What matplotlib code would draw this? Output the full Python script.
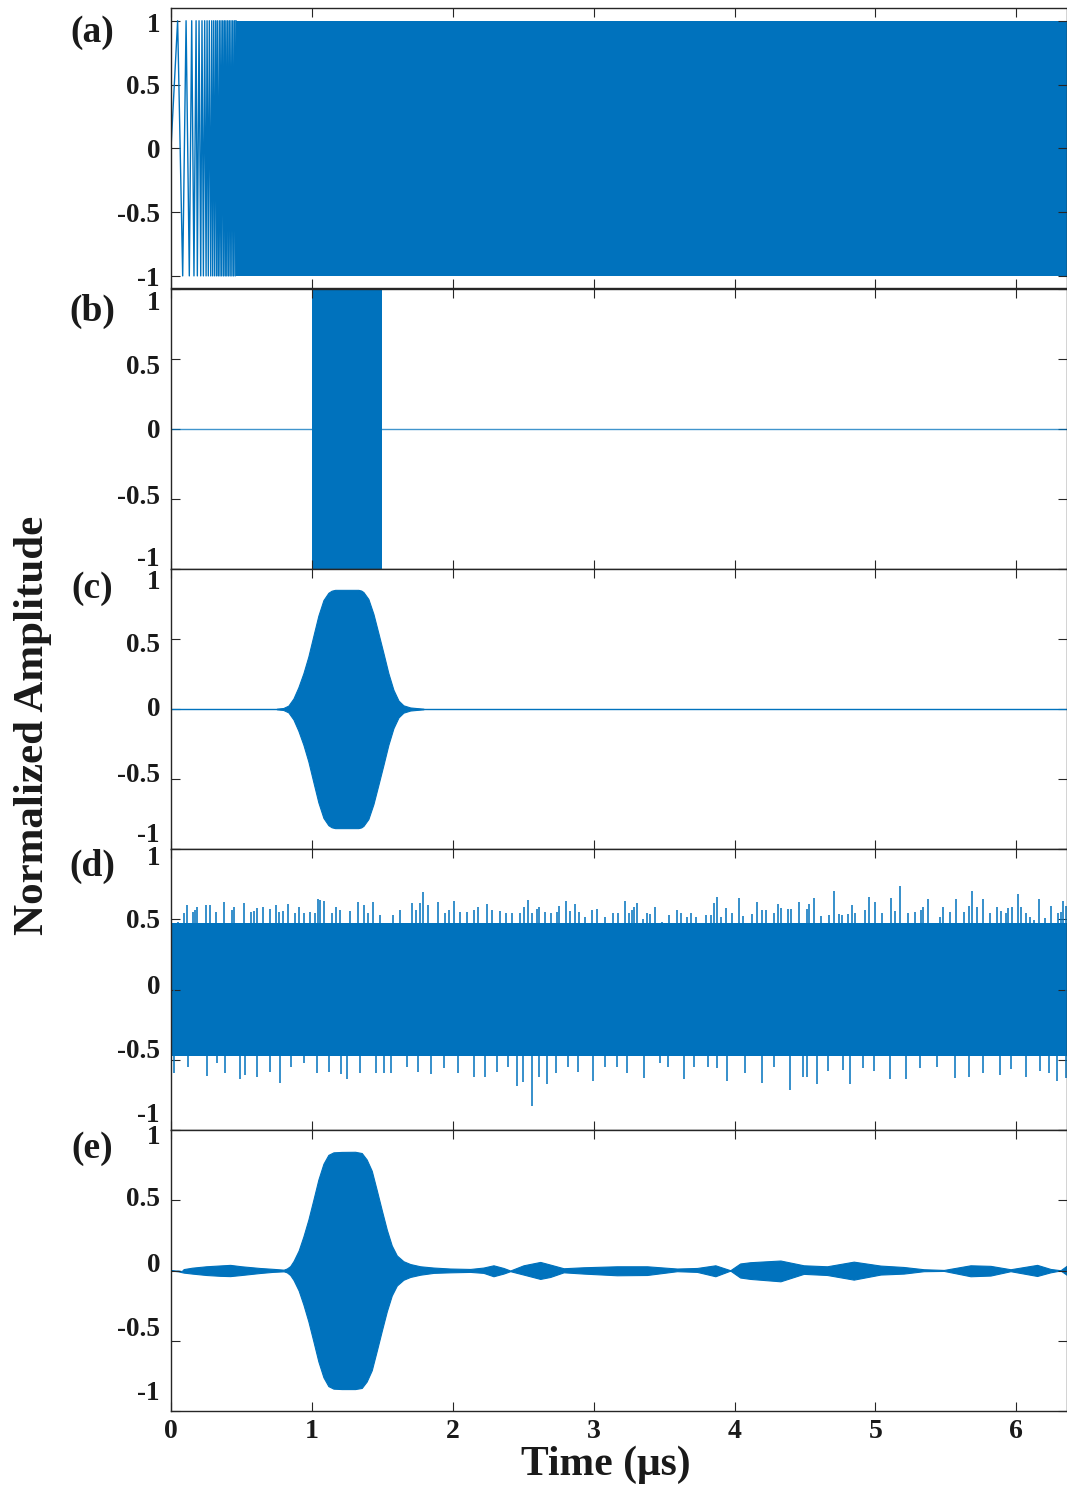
import matplotlib
matplotlib.use("Agg")
import matplotlib.pyplot as plt

BLUE = "#0072BD"
EDGE = "#262626"

T_END = 6.36  # record length, µs

# (a) linear chirp: resolved extrema at the low-frequency start, dense ±1 carrier afterwards
a_ext_t = [0.000, 0.047, 0.083, 0.107, 0.130, 0.147, 0.163, 0.178, 0.187, 0.199,
           0.211, 0.220, 0.230, 0.239, 0.249, 0.256, 0.265, 0.272, 0.282, 0.289,
           0.296, 0.303, 0.310, 0.317, 0.324, 0.329, 0.336, 0.343, 0.348, 0.355,
           0.360, 0.367, 0.373, 0.379, 0.385, 0.390, 0.396, 0.402, 0.408, 0.414,
           0.420, 0.426, 0.432, 0.438, 0.444, 0.450, 0.456, 0.461]
a_ext_v = [0, 1, -1, 1, -1, 1, -1, 1, -1, 1,
           -1, 1, -1, 1, -1, 1, -1, 1, -1, 1,
           -1, 1, -1, 1, -1, 1, -1, 1, -1, 1,
           -1, 1, -1, 1, -1, 1, -1, 1, -1, 1,
           -1, 1, -1, 1, -1, 1, -1, 1]
a_amp = 1.0

# (b) gated burst
b_start, b_stop, b_amp = 1.0, 1.5, 1.0

# (c) windowed burst envelope (symmetric about zero)
c_env_t = [0.751, 0.797, 0.833, 0.869, 0.904, 0.940, 0.975, 1.011, 1.046, 1.082,
           1.117, 1.140, 1.165, 1.330, 1.350, 1.366, 1.401, 1.437, 1.472, 1.508,
           1.543, 1.579, 1.615, 1.650, 1.698, 1.792]
c_env_v = [0.002, 0.007, 0.024, 0.075, 0.155, 0.256, 0.375, 0.524, 0.667, 0.778,
           0.830, 0.845, 0.851, 0.851, 0.846, 0.835, 0.786, 0.679, 0.542, 0.399,
           0.256, 0.137, 0.060, 0.026, 0.011, 0.002]

# (d) noise: dense band plus the tallest excursions above and below it
d_band = 0.47
d_up_t = [0.047, 0.090, 0.111, 0.159, 0.173, 0.185, 0.246, 0.279, 0.317, 0.379,
          0.431, 0.450, 0.516, 0.568, 0.587, 0.611, 0.653, 0.701, 0.743, 0.769,
          0.795, 0.833, 0.881, 0.909, 0.942, 0.987, 1.023, 1.042, 1.056, 1.084,
          1.141, 1.170, 1.203, 1.274, 1.330, 1.368, 1.397, 1.432, 1.480, 1.574,
          1.629, 1.714, 1.740, 1.766, 1.792, 1.823, 1.894, 1.946, 1.974, 2.008,
          2.050, 2.098, 2.150, 2.178, 2.240, 2.277, 2.334, 2.377, 2.420, 2.476,
          2.505, 2.533, 2.562, 2.595, 2.614, 2.652, 2.694, 2.737, 2.756, 2.803,
          2.831, 2.869, 2.898, 2.936, 2.988, 3.021, 3.078, 3.139, 3.172, 3.220,
          3.251, 3.275, 3.286, 3.310, 3.348, 3.376, 3.400, 3.436, 3.483, 3.535,
          3.594, 3.618, 3.665, 3.694, 3.724, 3.795, 3.831, 3.855, 3.878, 3.902,
          3.937, 3.985, 4.032, 4.058, 4.127, 4.158, 4.195, 4.224, 4.281, 4.307,
          4.328, 4.380, 4.404, 4.458, 4.517, 4.532, 4.565, 4.617, 4.671, 4.707,
          4.742, 4.766, 4.806, 4.837, 4.856, 4.925, 4.955, 5.000, 5.050, 5.114,
          5.140, 5.176, 5.228, 5.284, 5.322, 5.336, 5.370, 5.460, 5.483, 5.526,
          5.569, 5.630, 5.666, 5.685, 5.720, 5.767, 5.810, 5.862, 5.890, 5.926,
          5.943, 5.971, 6.009, 6.037, 6.068, 6.094, 6.127, 6.160, 6.205, 6.246,
          6.293, 6.317, 6.329, 6.352]
d_up_v = [0.483, 0.542, 0.601, 0.554, 0.566, 0.590, 0.601, 0.601, 0.554, 0.625,
          0.566, 0.590, 0.618, 0.554, 0.561, 0.578, 0.590, 0.571, 0.601, 0.554,
          0.561, 0.609, 0.542, 0.590, 0.547, 0.554, 0.547, 0.644, 0.637, 0.632,
          0.542, 0.590, 0.566, 0.561, 0.620, 0.601, 0.542, 0.620, 0.530, 0.530,
          0.566, 0.613, 0.566, 0.613, 0.696, 0.601, 0.625, 0.542, 0.566, 0.630,
          0.554, 0.554, 0.566, 0.590, 0.606, 0.566, 0.561, 0.542, 0.547, 0.542,
          0.590, 0.637, 0.542, 0.571, 0.585, 0.554, 0.542, 0.554, 0.594, 0.632,
          0.561, 0.609, 0.554, 0.518, 0.566, 0.571, 0.518, 0.542, 0.542, 0.632,
          0.542, 0.566, 0.585, 0.618, 0.499, 0.542, 0.535, 0.585, 0.483, 0.530,
          0.566, 0.547, 0.514, 0.542, 0.514, 0.530, 0.530, 0.613, 0.656, 0.518,
          0.578, 0.542, 0.649, 0.523, 0.537, 0.620, 0.566, 0.566, 0.542, 0.606,
          0.578, 0.571, 0.571, 0.620, 0.573, 0.609, 0.649, 0.523, 0.530, 0.703,
          0.535, 0.530, 0.537, 0.601, 0.547, 0.566, 0.661, 0.623, 0.542, 0.649,
          0.561, 0.737, 0.547, 0.554, 0.566, 0.590, 0.642, 0.518, 0.590, 0.554,
          0.642, 0.549, 0.594, 0.701, 0.585, 0.642, 0.542, 0.590, 0.561, 0.542,
          0.582, 0.590, 0.677, 0.585, 0.542, 0.518, 0.495, 0.642, 0.507, 0.594,
          0.542, 0.554, 0.630, 0.594]
d_lo_t = [0.020, 0.122, 0.252, 0.325, 0.386, 0.487, 0.528, 0.609, 0.702, 0.771,
          0.852, 0.942, 1.039, 1.120, 1.209, 1.250, 1.339, 1.453, 1.510, 1.563,
          1.672, 1.753, 1.847, 1.940, 2.037, 2.151, 2.232, 2.313, 2.394, 2.455,
          2.496, 2.565, 2.610, 2.666, 2.731, 2.821, 2.890, 2.995, 3.084, 3.166,
          3.235, 3.356, 3.474, 3.531, 3.640, 3.713, 3.815, 3.876, 3.949, 4.071,
          4.192, 4.282, 4.391, 4.485, 4.517, 4.586, 4.667, 4.769, 4.821, 4.911,
          4.992, 5.106, 5.215, 5.317, 5.438, 5.568, 5.662, 5.763, 5.885, 5.966,
          6.067, 6.169, 6.230, 6.291, 6.351]
d_lo_v = [-0.597, -0.549, -0.616, -0.525, -0.597, -0.639, -0.609, -0.620, -0.585, -0.663,
          -0.549, -0.525, -0.592, -0.587, -0.601, -0.635, -0.592, -0.592, -0.592, -0.592,
          -0.549, -0.585, -0.604, -0.561, -0.592, -0.625, -0.625, -0.585, -0.549, -0.687,
          -0.656, -0.827, -0.620, -0.675, -0.592, -0.549, -0.585, -0.649, -0.549, -0.554,
          -0.592, -0.632, -0.525, -0.549, -0.639, -0.549, -0.549, -0.561, -0.649, -0.592,
          -0.668, -0.549, -0.715, -0.620, -0.625, -0.673, -0.578, -0.573, -0.675, -0.561,
          -0.578, -0.639, -0.639, -0.561, -0.549, -0.632, -0.620, -0.592, -0.609, -0.568,
          -0.620, -0.578, -0.592, -0.649, -0.632]

# (e) recovered signal: upper / lower envelope of the dense carrier
e_env_t = [0.000, 0.050, 0.076, 0.090, 0.150, 0.250, 0.350, 0.420, 0.500, 0.630,
           0.720, 0.800, 0.822, 0.846, 0.870, 0.906, 0.940, 0.975, 1.011, 1.046,
           1.082, 1.117, 1.153, 1.212, 1.307, 1.354, 1.389, 1.425, 1.461, 1.496,
           1.532, 1.567, 1.603, 1.650, 1.698, 1.769, 1.863, 1.982, 2.124, 2.218,
           2.289, 2.360, 2.408, 2.502, 2.621, 2.692, 2.787, 2.929, 3.165, 3.379,
           3.592, 3.734, 3.864, 3.970, 4.040, 4.112, 4.326, 4.491, 4.657, 4.846,
           5.036, 5.201, 5.343, 5.486, 5.675, 5.817, 5.959, 6.148, 6.243, 6.314,
           6.360]
e_up = [0.000, 0.000, -0.004, 0.010, 0.020, 0.030, 0.036, 0.040, 0.030, 0.018,
        0.012, 0.006, 0.014, 0.031, 0.068, 0.142, 0.243, 0.362, 0.505, 0.647,
        0.760, 0.823, 0.841, 0.844, 0.845, 0.836, 0.790, 0.710, 0.570, 0.430,
        0.290, 0.178, 0.107, 0.066, 0.046, 0.030, 0.021, 0.014, 0.011, 0.021,
        0.037, 0.018, 0.000, 0.037, 0.061, 0.042, 0.016, 0.023, 0.030, 0.030,
        0.014, 0.018, 0.037, 0.002, 0.050, 0.059, 0.071, 0.037, 0.030, 0.063,
        0.035, 0.025, 0.009, 0.004, 0.037, 0.033, 0.009, 0.040, 0.011, 0.002,
        0.035]
e_lo = [0.000, -0.006, -0.012, -0.015, -0.022, -0.032, -0.038, -0.040, -0.032, -0.018,
        -0.010, -0.006, -0.013, -0.032, -0.068, -0.142, -0.243, -0.362, -0.505, -0.647,
        -0.760, -0.823, -0.841, -0.844, -0.844, -0.836, -0.790, -0.710, -0.570, -0.430,
        -0.290, -0.178, -0.107, -0.066, -0.046, -0.030, -0.017, -0.013, -0.010, -0.017,
        -0.041, -0.022, -0.005, -0.029, -0.060, -0.046, -0.013, -0.022, -0.034, -0.032,
        -0.005, -0.010, -0.041, -0.001, -0.050, -0.060, -0.077, -0.024, -0.032, -0.065,
        -0.029, -0.022, -0.005, -0.003, -0.041, -0.036, -0.005, -0.039, -0.013, -0.000,
        -0.032]

panel_tags = ["(a)", "(b)", "(c)", "(d)", "(e)"]
ytick_vals = [1, 0.5, 0, -0.5, -1]
ytick_text = ["1", "0.5", "0", "-0.5", "-1"]
xtick_vals = [0, 1, 2, 3, 4, 5, 6]

# ---------------------------------------------------------------- layout
W, H = 1067, 1490
plt.rcParams["font.family"] = ["Liberation Serif", "DejaVu Serif"]
plt.rcParams["font.weight"] = "bold"
fig = plt.figure(figsize=(W / 100, H / 100), dpi=100)

# axes boxes in pixels (top, bottom) and y-limits per panel
boxes = [(8, 288), (289, 569), (569, 849), (849, 1130), (1130, 1411)]
ylims = [(-1.095, 1.10), (-1, 1), (-1, 1), (-1, 1), (-1, 1)]
# vertical pixel centres of the y tick labels of every panel
ylab_px = [[25, 88, 152, 216, 280],
           [303, 368, 432, 497, 559],
           [582, 645, 710, 776, 835],
           [859, 921, 987, 1051, 1115],
           [1138, 1200, 1266, 1329, 1393]]
tag_px = [33, 311, 588, 866, 1148]
x0_px, x1_px = 171, 1067
TXT = "#1a1a1a"

axes = []
for i, (top, bot) in enumerate(boxes):
    ax = fig.add_axes([x0_px / W, 1 - bot / H, (x1_px - x0_px) / W, (bot - top) / H])
    ax.set_xlim(0, T_END)
    ax.set_ylim(*ylims[i])
    ax.set_xticks(xtick_vals)
    ax.set_yticks(ytick_vals)
    ax.set_yticklabels([])
    if i < 4:
        ax.set_xticklabels([])
    else:
        ax.set_xticklabels([str(v) for v in xtick_vals], fontsize=20,
                           fontweight="bold", color=TXT)
    ax.tick_params(direction="in", top=True, right=True, length=6.5, width=0.8,
                   color=EDGE, pad=6)
    for s in ax.spines.values():
        s.set_color(EDGE)
        s.set_linewidth(1.0)
    for v, txt, ypx in zip(ytick_vals, ytick_text, ylab_px[i]):
        fig.text(160 / W, 1 - ypx / H, txt, ha="right", va="center",
                 fontsize=19.5, fontweight="bold", color=TXT)
    fig.text(92 / W, 1 - tag_px[i] / H, panel_tags[i], ha="center", va="center",
             fontsize=27, fontweight="bold", color=TXT)
    axes.append(ax)

ax_a, ax_b, ax_c, ax_d, ax_e = axes

# (a)
ax_a.plot(a_ext_t, a_ext_v, color=BLUE, lw=1.0)
ax_a.fill_between([a_ext_t[-1], T_END], -a_amp, a_amp, color=BLUE, lw=0)

# (b)
ax_b.plot([0, T_END], [0, 0], color=BLUE, lw=1.0, alpha=0.75)
ax_b.fill_between([b_start, b_stop], -b_amp, b_amp, color=BLUE, lw=0)

# (c)
ax_c.plot([0, T_END], [0, 0], color=BLUE, lw=1.0)
ax_c.fill_between(c_env_t, [-v for v in c_env_v], c_env_v, color=BLUE, lw=0.8,
                  edgecolor=BLUE)

# (d)
ax_d.fill_between([0, T_END], -d_band, d_band, color=BLUE, lw=0)
ax_d.vlines(d_up_t, 0, d_up_v, color=BLUE, lw=1.1)
ax_d.vlines(d_lo_t, d_lo_v, 0, color=BLUE, lw=1.1)

# (e)
ax_e.fill_between(e_env_t, e_lo, e_up, color=BLUE, lw=0.8, edgecolor=BLUE)

fig.text(33 / W, 1 - 725 / H, "Normalized Amplitude", rotation=90, ha="center",
         va="center", fontsize=31, fontweight="bold", color=TXT)
fig.text(606 / W, 1 - 1465 / H, "Time (μs)", ha="center", va="center",
         fontsize=30, fontweight="bold", color=TXT)

fig.savefig("out.png", dpi=100)
